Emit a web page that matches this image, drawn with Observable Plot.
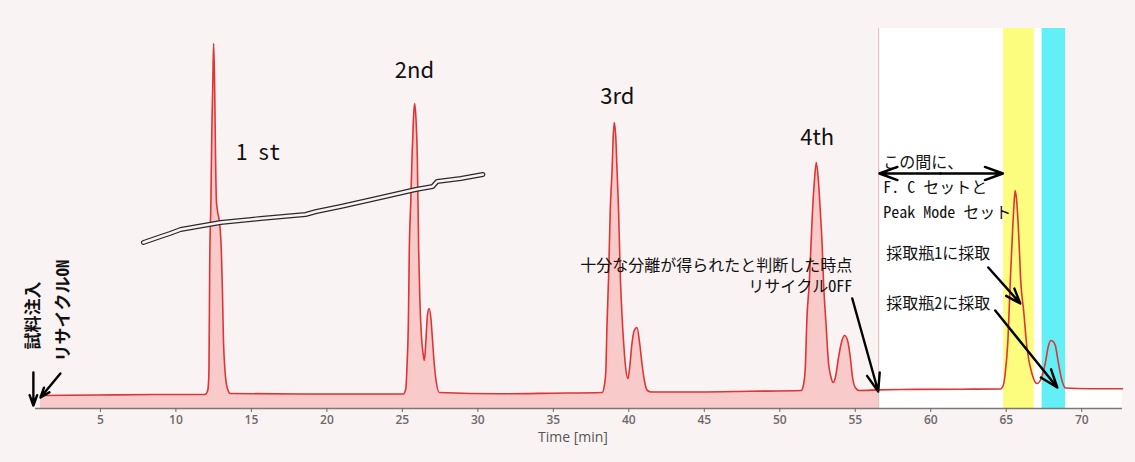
<!DOCTYPE html>
<html>
<head>
<meta charset="utf-8">
<script src="https://cdn.jsdelivr.net/npm/d3@7"></script>
<script src="https://cdn.jsdelivr.net/npm/@observablehq/plot@0.6"></script>
<style>
  html, body { margin: 0; padding: 0; background: #faf3f3; }
  #chart { width: 1135px; height: 462px; }
</style>
</head>
<body>
<div id="chart"></div>
<script>
// Chromatogram trace: time [min] and detector signal (arb. units)
const timeMin = [
  1.03, 5.0, 9.0, 11.9,
  12.02, 12.12, 12.19, 12.24, 12.32, 12.38, 12.45, 12.50, 12.56, 12.62, 12.68, 12.75, 12.91, 13.01, 13.08, 13.15, 13.25, 13.41, 13.61,
  18.2, 22.0, 25.07,
  25.23, 25.31, 25.40, 25.46, 25.56, 25.64, 25.73, 25.81, 25.89, 25.99, 26.08, 26.16, 26.26, 26.39, 26.46, 26.56, 26.66, 26.77, 26.89, 26.99, 27.12, 27.25, 27.45,
  31.5, 35.0, 38.24,
  38.38, 38.48, 38.55, 38.66, 38.77, 38.89, 38.97, 39.04, 39.13, 39.22, 39.32, 39.44, 39.55, 39.66, 39.81, 39.95, 40.07, 40.21, 40.36, 40.54, 40.72, 40.87, 41.03, 41.23, 41.49,
  44.7, 48.0, 51.42,
  51.56, 51.69, 51.80, 51.95, 52.07, 52.17, 52.28, 52.42, 52.57, 52.68, 52.80, 52.90, 53.06, 53.23, 53.38, 53.54, 53.71, 53.89, 54.12, 54.29, 54.49, 54.67, 54.82, 55.0, 55.26,
  56.55, 58.0, 62.0, 64.6,
  64.80, 64.93, 65.11, 65.26, 65.42, 65.53, 65.59, 65.69, 65.81, 65.97, 66.15, 66.37, 66.70, 67.03, 67.32, 67.58, 67.80, 67.96, 68.11, 68.25, 68.46, 68.69, 68.93,
  70.5, 72.7
];
const signal = [
  13, 13.5, 14, 14,
  15, 19, 38, 145, 208, 278, 328, 365, 328, 258, 208, 198, 183, 158, 118, 68, 38, 20, 15,
  14.5, 14.5, 14.5,
  20, 43, 88, 158, 208, 251, 288, 305, 293, 251, 158, 108, 73, 53, 48, 68, 93, 100, 90, 70, 43, 26, 16,
  14.7, 15.3, 16,
  23, 38, 81, 131, 198, 238, 273, 286, 273, 238, 198, 131, 93, 65, 38, 30, 43, 65, 78, 81, 65, 45, 28, 18, 16.5,
  16.5, 17.2, 18,
  23, 41, 91, 125, 165, 198, 225, 246, 225, 198, 165, 125, 85, 45, 32, 26, 33, 51, 68, 73, 68, 51, 31, 21, 18,
  18.6, 19, 19.3, 19.5,
  23, 35, 68, 125, 178, 208, 218, 208, 178, 125, 98, 61, 35, 25, 30, 45, 63, 68, 67, 63, 45, 28, 20.5,
  19.8, 19.7
];

// Hand-drawn "break" double line (time, signal), slightly stepped like the original
const breakT = [7.85, 9.0, 9.6, 10.31, 12.96, 15.61, 18.59, 19.3, 20.92, 23.57, 25.89, 27.01, 27.3, 28.87, 30.33];
const breakS = [166, 172, 175, 179, 186, 190, 194, 197, 202, 211, 219, 222, 227, 230, 234];

const xTicks = [5, 10, 15, 20, 25, 30, 35, 40, 45, 50, 55, 60, 65, 70];
const xLabel = "Time [min]";

const recycleOffTime = 56.55;          // recycle switched OFF
const fraction1 = [64.83, 66.85];       // collection vial 1
const fraction2 = [67.38, 68.93];       // collection vial 2

const cycleLabels = ["1 st", "2nd", "3rd", "4th"];
const cycleLabelT = [15.46, 25.8, 39.24, 52.48];
const cycleLabelS = [256, 338, 312, 271];

const chrom = timeMin.map((t, i) => ({t, s: signal[i]}));
const breakLine = breakT.map((t, i) => ({t, s: breakS[i]}));
const cycles = cycleLabels.map((label, i) => ({label, t: cycleLabelT[i], s: cycleLabelS[i]}));

const YMAX = 380;
const monoJP = "'Noto Sans Mono CJK JP', 'Noto Sans CJK JP', 'DejaVu Sans Mono', monospace";
const sansJP = "'Noto Sans CJK JP', 'Noto Sans', sans-serif";

const notesRight = [
  {t: 54.8, s: 134, text: "十分な分離が得られたと判断した時点\nリサイクルOFF"}
];
const notesWhite = [
  {t: 56.85, s: 246, text: "この間に、"},
  {t: 56.85, s: 221, text: "F. C セットと"},
  {t: 56.85, s: 196, text: "Peak Mode セット"},
  {t: 57.05, s: 155, text: "採取瓶1に採取"},
  {t: 57.05, s: 105, text: "採取瓶2に採取"}
];
const notesVertical = [
  {t: 0.56, s: 93, text: "試料注入"},
  {t: 2.55, s: 98, text: "リサイクルON"}
];
const arrows = [
  {t1: 0.56, s1: 36, t2: 0.56, s2: 3},
  {t1: 2.35, s1: 35, t2: 1.03, s2: 11},
  {t1: 54.8, s1: 110, t2: 56.52, s2: 17},
  {t1: 60.66, s1: 235, t2: 56.6, s2: 235},
  {t1: 60.66, s1: 235, t2: 64.78, s2: 235},
  {t1: 63.81, s1: 141, t2: 65.93, s2: 105},
  {t1: 64.27, s1: 98, t2: 68.38, s2: 21}
];

const chart = Plot.plot({
  width: 1135,
  height: 462,
  marginLeft: 35,
  marginRight: 13,
  marginTop: 28,
  marginBottom: 54,
  style: {background: "transparent", fontFamily: "'Open Sans', sans-serif"},
  x: {domain: [0.7, 72.7]},
  y: {domain: [0, YMAX], axis: null},
  marks: [
    Plot.rect([{a: recycleOffTime, b: fraction2[0], c: 0, d: YMAX}], {x1: "a", x2: "b", y1: "c", y2: "d", fill: "white"}),
    Plot.rect([{a: fraction1[0], b: fraction1[1], c: 0, d: YMAX}], {x1: "a", x2: "b", y1: "c", y2: "d", fill: "#fcfc7e"}),
    Plot.rect([{a: fraction2[0], b: fraction2[1], c: 0, d: YMAX}], {x1: "a", x2: "b", y1: "c", y2: "d", fill: "#62eff5"}),
    Plot.areaY(chrom.filter(d => d.t <= recycleOffTime), {x: "t", y: "s", fill: "#f9caca", curve: "monotone-x"}),
    Plot.areaY(chrom.filter(d => d.t >= fraction2[1]), {x: "t", y: "s", fill: "white", curve: "monotone-x"}),
    Plot.ruleX([recycleOffTime], {y1: 0, y2: YMAX, stroke: "#dcbaba", strokeWidth: 1}),
    Plot.ruleY([0], {stroke: "#7a7a7a", strokeWidth: 1.5}),
    Plot.axisX({ticks: xTicks, tickSize: 4, tickPadding: 3, label: null, color: "#6a6a6a", fontSize: 12, fontWeight: 600}),
    Plot.text([{t: 36.3}], {x: "t", frameAnchor: "bottom", dy: 33, text: () => xLabel, fontSize: 14, fill: "#555"}),
    Plot.line(chrom, {x: "t", y: "s", stroke: "#de3535", strokeWidth: 1.6, curve: "monotone-x"}),
    Plot.line(breakLine, {x: "t", y: "s", stroke: "#2a2a2a", strokeWidth: 5, curve: "linear"}),
    Plot.line(breakLine, {x: "t", y: "s", stroke: "#faf3f3", strokeWidth: 2.6, curve: "linear"}),
    Plot.text(cycles.slice(0, 1), {x: "t", y: "s", text: "label", fontSize: 22, fontFamily: monoJP, fill: "#111"}),
    Plot.text(cycles.slice(1), {x: "t", y: "s", text: "label", fontSize: 22, fontFamily: sansJP, fill: "#111"}),
    Plot.text(notesRight, {x: "t", y: "s", text: "text", textAnchor: "end", lineHeight: 1.35, fontSize: 16, fontFamily: monoJP, fill: "#111"}),
    Plot.text(notesWhite, {x: "t", y: "s", text: "text", textAnchor: "start", fontSize: 16, fontFamily: monoJP, fill: "#111"}),
    Plot.text(notesVertical, {x: "t", y: "s", text: "text", rotate: -90, fontSize: 17, fontFamily: monoJP, fontWeight: 600, fill: "#111"}),
    Plot.arrow(arrows, {x1: "t1", y1: "s1", x2: "t2", y2: "s2", stroke: "#000", strokeWidth: 2.4, headLength: 12, headAngle: 40})
  ]
});
document.getElementById("chart").appendChild(chart);
</script>
</body>
</html>
